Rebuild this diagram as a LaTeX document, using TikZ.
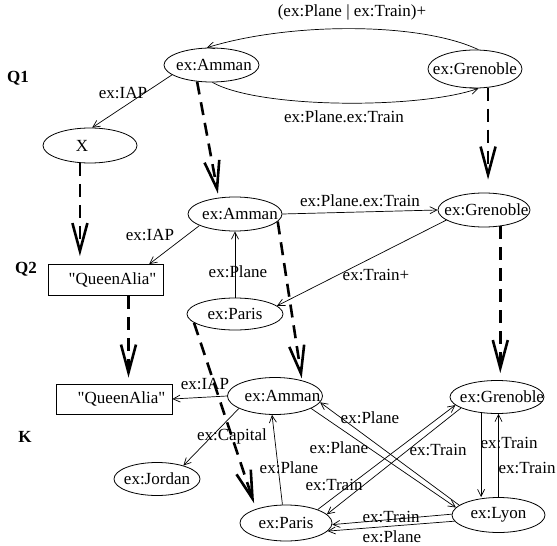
\documentclass[tikz,border=0pt]{standalone}
\usepackage{fontspec}
\setmainfont{Liberation Serif}
\usetikzlibrary{arrows.meta,shapes.geometric,calc}
\newcommand\ntxt[2]{\makebox[0pt]{\hspace*{#1}#2}}
\begin{document}
\begin{tikzpicture}[x=1bp,y=-1bp,
  every node/.style={font=\fontsize{17bp}{20bp}\selectfont},
  ell/.style={draw, ellipse, inner sep=0pt, line width=0.8bp},
  box/.style={draw, rectangle, inner sep=0pt, line width=0.8bp},
  lbl/.style={anchor=base, inner sep=0pt},
  qlbl/.style={anchor=base, inner sep=0pt, font=\fontsize{17bp}{20bp}\selectfont\bfseries},
  rel/.style={line width=0.7bp, -{Straight Barb[length=7bp,width=7bp]}},
  mapping/.style={line width=2.6bp, dash pattern=on 13bp off 8bp, -{Straight Barb[length=28bp,width=15bp]}},
]
\useasboundingbox (0,0) rectangle (557,546);

% ---------- Q1 ----------
\node[ell, minimum width=95bp, minimum height=34bp] (a1) at (211.5,65) {\ntxt{5bp}{ex:Amman}};
\node[ell, minimum width=94bp, minimum height=38bp] (g1) at (475,69) {\ntxt{0bp}{ex:Grenoble}};
\node[ell, minimum width=94bp, minimum height=35bp] (x1) at (90,145.5) {\ntxt{-16bp}{X}};

% ---------- Q2 ----------
\node[ell, minimum width=94bp, minimum height=34bp] (a2) at (235,214) {\ntxt{10bp}{ex:Amman}};
\node[ell, minimum width=92bp, minimum height=34bp] (g2) at (484,210) {\ntxt{5bp}{ex:Grenoble}};
\node[box, minimum width=115bp, minimum height=31bp] (q1) at (105.5,280) {\ntxt{14bp}{\textquotedbl QueenAlia\textquotedbl}};
\node[ell, minimum width=96bp, minimum height=32bp] (p2) at (235,314) {\ntxt{0bp}{ex:Paris}};

% ---------- K ----------
\node[box, minimum width=116bp, minimum height=30bp] (q2) at (114,399) {\ntxt{15bp}{\textquotedbl QueenAlia\textquotedbl}};
\node[ell, minimum width=95bp, minimum height=37bp] (a3) at (275,396) {\ntxt{15bp}{ex:Amman}};
\node[ell, minimum width=94bp, minimum height=33bp] (g3) at (497,397) {\ntxt{10bp}{ex:Grenoble}};
\node[ell, minimum width=86bp, minimum height=33bp] (j3) at (157,479) {\ntxt{0bp}{ex:Jordan}};
\node[ell, minimum width=92bp, minimum height=36bp] (p3) at (286,523) {\ntxt{0bp}{ex:Paris}};
\node[ell, minimum width=93bp, minimum height=35bp] (l3) at (498.5,515) {\ntxt{0bp}{ex:Lyon}};

% ---------- section labels ----------
\node[qlbl] (tq1) at (18,83) {Q1};
\node[qlbl] (tq2) at (26,273) {Q2};
\node[qlbl] (tk) at (25,442) {K};

% ---------- Q1 edges ----------
\draw[rel] (g1.80) .. controls (420,22) and (290,22) .. (a1.105);
\draw[rel] (a1.-87) .. controls (260,109) and (420,109) .. (g1.-80);
\draw[rel] (a1.194) -- (x1.83);
\node[lbl] (e1) at (352,17) {(ex:Plane | ex:Train)+};
\node[lbl] (e2) at (344,123) {ex:Plane.ex:Train};
\node[lbl] (e3) at (123,99) {ex:IAP};

% ---------- Q2 edges ----------
\draw[rel] (a2.198) -- (q1.20);
\draw[rel] (p2.north) -- (a2.south);
\draw[rel] (a2.east) -- (g2.west);
\draw[rel] (g2.195) -- (p2.11);
\node[lbl] (e4) at (150,240) {ex:IAP};
\node[lbl] (e5) at (238,277) {ex:Plane};
\node[lbl] (e6) at (360,207) {ex:Plane.ex:Train};
\node[lbl] (e7) at (376,280) {ex:Train+};

% ---------- K edges ----------
\draw[rel] (a3.west) -- (q2.east);
\draw[rel] (a3.199) -- (j3.27);
\draw[rel] (p3.101) -- (a3.-99);
\draw[rel] (a3.-19) -- (l3.170);
\draw[rel] (l3.166) -- (a3.-8);
\draw[rel] (p3.23) -- (g3.191);
\draw[rel] (g3.197) -- (p3.12);
\draw[rel] (g3.-135) -- (g3.-135 |- l3.north);
\draw[rel] (l3.north) -- (l3.north |- g3.south);
\draw[rel] (l3.179) -- (p3.-2);
\draw[rel] (l3.188) -- (p3.-11);
\node[lbl] (e8) at (205,389) {ex:IAP};
\node[lbl] (e9) at (232,440) {ex:Capital};
\node[lbl] (e10) at (289,473) {ex:Plane};
\node[lbl] (e11) at (339,453) {ex:Plane};
\node[lbl] (e12) at (370,423) {ex:Plane};
\node[lbl] (e13) at (334,490) {ex:Train};
\node[lbl] (e14) at (438,455) {ex:Train};
\node[lbl] (e15) at (509,448) {ex:Train};
\node[lbl] (e16) at (527,473) {ex:Train};
\node[lbl] (e17) at (391,522) {ex:Train};
\node[lbl] (e18) at (392,542) {ex:Plane};

% ---------- mapping arrows ----------
\coordinate (qs) at ([xshift=23bp]q1.south);
\draw[mapping, shorten >=4bp] (a1.229) -- (a2.135);
\draw[mapping, shorten >=13bp] (g1.-55) -- (g1.-55 |- g2.north);
\draw[mapping, shorten >=8bp] (x1.-120) -- (x1.-120 |- q1.north);
\draw[mapping, shorten >=6bp] (qs) -- (qs |- q2.north);
\draw[mapping, shorten >=2bp] (a2.-10) -- (a3.30);
\draw[mapping, shorten >=7bp] (g2.-45) -- (g2.-45 |- g3.north);
\draw[mapping, shorten >=6bp] (p2.192) -- (p3.155);
\end{tikzpicture}
\end{document}
